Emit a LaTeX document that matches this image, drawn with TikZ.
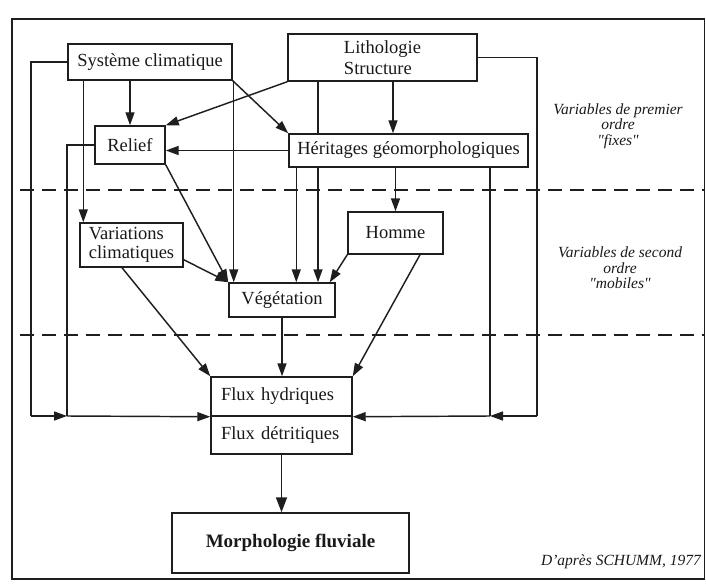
\documentclass[tikz,border=0pt]{standalone}
\usepackage{fontspec}
\setmainfont{Liberation Serif}
\usetikzlibrary{arrows.meta,calc}
\pgfdeclarelayer{bg}
\pgfsetlayers{bg,main}
\definecolor{inkc}{RGB}{30,30,30}
\definecolor{txtc}{RGB}{25,25,25}
\begin{document}
\begin{tikzpicture}[x=1pt,y=-1pt,
  ink/.style={draw=inkc, line width=1.45pt},
  box/.style={ink, rectangle, fill=white, inner sep=0pt, text=txtc, font=\fontsize{18.5}{20}\selectfont},
  arr/.style={ink, -{Triangle[length=13pt,width=9pt]}},
  bigarr/.style={draw=inkc, line width=1.8pt, -{Triangle[length=15pt,width=11pt]}},
  lab/.style={text=txtc, font=\fontsize{15.5}{15.5}\selectfont\itshape, align=center, inner sep=0pt},
  sepline/.style={draw=inkc, line width=1.4pt, dash pattern=on 14pt off 8pt}
]
\useasboundingbox (0,0) rectangle (706,583);
\draw[draw=inkc, line width=1.6pt] (12,19) rectangle (704.5,579);

% boxes
\node[box, minimum width=164pt, minimum height=36pt] (sys) at (150,62) {Système climatique};
\node[box, minimum width=189pt, minimum height=47pt, align=left, font=\fontsize{18.5}{21}\selectfont] (litho) at (382.5,57.5) {Lithologie\\Structure};
\node[box, minimum width=70pt, minimum height=38pt] (relief) at (130,145) {Relief};
\node[box, minimum width=239pt, minimum height=33pt] (herit) at (408.5,150.5) {Héritages géomorphologiques};
\node[box, minimum width=103pt, minimum height=44pt, align=left, font=\fontsize{18.5}{19}\selectfont] (varia) at (131.5,245) {Variations\\climatiques};
\node[box, minimum width=106pt, minimum height=34pt] (veget) at (282,300) {Végétation};
\node[box, minimum width=95pt, minimum height=42pt] (homme) at (395.5,233) {Homme};
\node[box, minimum width=141pt, minimum height=39pt, text width=121pt, align=left] (fluxh) at (281.5,396.5) {Flux hydriques};
\node[box, minimum width=141pt, minimum height=38pt, text width=121pt, align=left] (fluxd) at (281.5,435) {Flux détritiques};
\node[box, minimum width=237pt, minimum height=60pt, font=\fontsize{19}{20}\selectfont\bfseries] (morpho) at (290.5,543) {Morphologie fluviale};

% separators
\coordinate (d1a) at (20,190);
\coordinate (d1b) at (704,190);
\coordinate (d2a) at (20,335);
\coordinate (d2b) at (704,335);
\begin{pgfonlayer}{bg}
\draw[sepline] (d1a) -- (d1b);
\draw[sepline] (d2a) -- (d2b);
\end{pgfonlayer}

% labels
\node[lab] (l1) at (618,126) {Variables de premier\\ordre\\\textquotedbl fixes\textquotedbl};
\node[lab] (l2) at (620,268) {Variables de second\\ordre\\\textquotedbl mobiles\textquotedbl};
\node[lab, anchor=east] (src) at (701,562) {D'après SCHUMM, 1977};

% connectors from Systeme climatique
\coordinate (sA) at ([xshift=16pt]sys.south west);
\coordinate (sB) at ([xshift=1pt]sys.south east);
\draw[arr] (relief.north |- sys.south) -- (relief.north);
\draw[arr] (sA) -- (sA |- varia.north);
\draw[arr] (sys.south east) -- (herit.north west);
\draw[arr] (sB) -- (sB |- veget.north);

% left loops
\coordinate (cL) at (31,416);
\coordinate (jL) at (67,416);
\draw[ink] (sys.west) -| (cL);
\draw[arr] (cL) -- (jL);
\draw[ink] (relief.west) -| (jL);
\draw[arr] (jL) -- (fluxh.south west);

% right loops
\coordinate (cR) at (537,416);
\coordinate (jR) at (490,416);
\draw[ink] (litho.east) -| (cR);
\draw[arr] (cR) -- (jR);
\draw[ink] (herit.south -| jR) -- (jR);
\draw[arr] (jR) -- (fluxh.south east);

% Lithologie
\coordinate (lA) at ([xshift=10.5pt]litho.south);
\coordinate (lB) at ([xshift=-64.5pt]litho.south);
\draw[arr] (litho.south west) -- (relief.north east);
\draw[arr] (lA) -- (lA |- herit.north);
\begin{pgfonlayer}{bg}
\draw[arr] (lB) -- (lB |- veget.north);
\end{pgfonlayer}

% Heritages
\coordinate (hA) at ([xshift=8pt]herit.south west);
\draw[arr] (herit.west) -- (herit.west -| relief.east);
\draw[arr] (homme.north |- herit.south) -- (homme.north);
\draw[arr] (hA) -- (hA |- veget.north);

% Relief, Variations
\coordinate (vA) at ([xshift=-9.5pt]varia.south);
\draw[arr] (relief.south east) -- (veget.north west);
\draw[arr] ([yshift=8pt]varia.south east) -- (veget.north west);
\draw[arr] (vA) -- (fluxh.north west);

% Homme
\draw[arr] (homme.south west) -- ([xshift=-6pt]veget.north east);
\draw[arr] ([xshift=24.5pt]homme.south) -- (fluxh.north east);

% Vegetation, Flux
\draw[arr] (veget.south) -- (veget.south |- fluxh.north);
\draw[bigarr] (fluxd.south) -- (fluxd.south |- morpho.north);
\end{tikzpicture}
\end{document}
